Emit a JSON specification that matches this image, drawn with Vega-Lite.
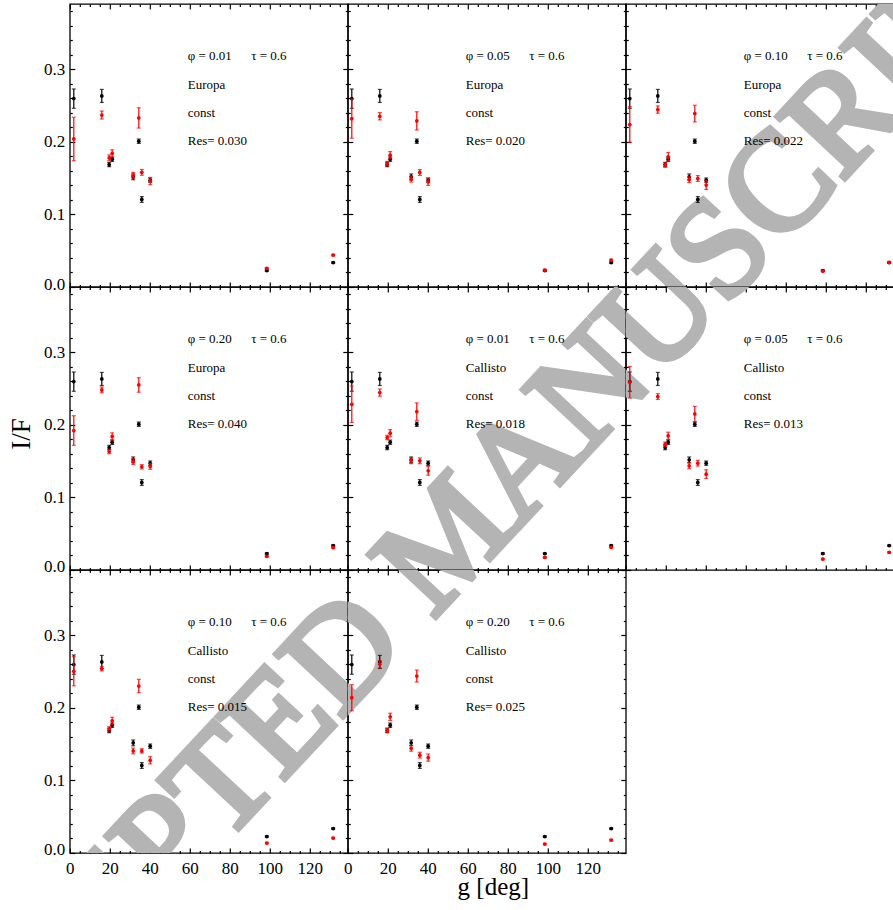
{
"$schema":"https://vega.github.io/schema/vega-lite/v6.json",
"background":"white",
"padding":{"left":6.8,"top":2,"right":0,"bottom":0},
"datasets":{
"wm":[{"text":"ACCEPTED MANUSCRIPT"}],
"obs":[{"g":2.0,"IF":0.2596,"err":0.0133},{"g":16.0,"IF":0.2633,"err":0.009},{"g":19.7,"IF":0.1688,"err":0.003},{"g":21.2,"IF":0.1761,"err":0.003},{"g":31.7,"IF":0.1518,"err":0.004},{"g":34.5,"IF":0.2009,"err":0.003},{"g":36.0,"IF":0.1206,"err":0.004},{"g":40.2,"IF":0.1472,"err":0.003},{"g":98.5,"IF":0.0226,"err":0.001},{"g":131.7,"IF":0.0336,"err":0.001}],
"model":[
{"panel":1,"g":2.0,"IF":0.204,"err":0.030},{"panel":1,"g":16.0,"IF":0.237,"err":0.0055},{"panel":1,"g":19.7,"IF":0.178,"err":0.004},{"panel":1,"g":21.2,"IF":0.184,"err":0.005},{"panel":1,"g":31.7,"IF":0.154,"err":0.004},{"panel":1,"g":34.5,"IF":0.233,"err":0.014},{"panel":1,"g":36.0,"IF":0.158,"err":0.004},{"panel":1,"g":40.2,"IF":0.146,"err":0.005},{"panel":1,"g":98.5,"IF":0.0257,"err":0.001},{"panel":1,"g":131.7,"IF":0.044,"err":0.001},
{"panel":2,"g":2.0,"IF":0.232,"err":0.027},{"panel":2,"g":16.0,"IF":0.2353,"err":0.005},{"panel":2,"g":19.7,"IF":0.170,"err":0.003},{"panel":2,"g":21.2,"IF":0.1817,"err":0.005},{"panel":2,"g":31.7,"IF":0.1486,"err":0.004},{"panel":2,"g":34.5,"IF":0.2289,"err":0.0126},{"panel":2,"g":36.0,"IF":0.1578,"err":0.004},{"panel":2,"g":40.2,"IF":0.145,"err":0.005},{"panel":2,"g":98.5,"IF":0.0234,"err":0.001},{"panel":2,"g":131.7,"IF":0.0372,"err":0.001},
{"panel":3,"g":2.0,"IF":0.2239,"err":0.0245},{"panel":3,"g":16.0,"IF":0.2445,"err":0.005},{"panel":3,"g":19.7,"IF":0.168,"err":0.003},{"panel":3,"g":21.2,"IF":0.1794,"err":0.006},{"panel":3,"g":31.7,"IF":0.148,"err":0.004},{"panel":3,"g":34.5,"IF":0.239,"err":0.0115},{"panel":3,"g":36.0,"IF":0.1495,"err":0.004},{"panel":3,"g":40.2,"IF":0.1404,"err":0.006},{"panel":3,"g":98.5,"IF":0.022,"err":0.001},{"panel":3,"g":131.7,"IF":0.034,"err":0.001},
{"panel":4,"g":2.0,"IF":0.1922,"err":0.0204},{"panel":4,"g":16.0,"IF":0.2482,"err":0.004},{"panel":4,"g":19.7,"IF":0.1633,"err":0.003},{"panel":4,"g":21.2,"IF":0.184,"err":0.005},{"panel":4,"g":31.7,"IF":0.1495,"err":0.004},{"panel":4,"g":34.5,"IF":0.255,"err":0.010},{"panel":4,"g":36.0,"IF":0.1422,"err":0.003},{"panel":4,"g":40.2,"IF":0.1427,"err":0.004},{"panel":4,"g":98.5,"IF":0.0188,"err":0.001},{"panel":4,"g":131.7,"IF":0.0307,"err":0.001},
{"panel":5,"g":2.0,"IF":0.2284,"err":0.025},{"panel":5,"g":16.0,"IF":0.2445,"err":0.005},{"panel":5,"g":19.7,"IF":0.1826,"err":0.003},{"panel":5,"g":21.2,"IF":0.1885,"err":0.005},{"panel":5,"g":31.7,"IF":0.1505,"err":0.004},{"panel":5,"g":34.5,"IF":0.2183,"err":0.012},{"panel":5,"g":36.0,"IF":0.1505,"err":0.004},{"panel":5,"g":40.2,"IF":0.1367,"err":0.006},{"panel":5,"g":98.5,"IF":0.0174,"err":0.001},{"panel":5,"g":131.7,"IF":0.0312,"err":0.001},
{"panel":6,"g":2.0,"IF":0.2587,"err":0.0218},{"panel":6,"g":16.0,"IF":0.239,"err":0.004},{"panel":6,"g":19.7,"IF":0.1734,"err":0.003},{"panel":6,"g":21.2,"IF":0.1849,"err":0.005},{"panel":6,"g":31.7,"IF":0.1436,"err":0.004},{"panel":6,"g":34.5,"IF":0.2151,"err":0.0105},{"panel":6,"g":36.0,"IF":0.1472,"err":0.004},{"panel":6,"g":40.2,"IF":0.1321,"err":0.006},{"panel":6,"g":98.5,"IF":0.0151,"err":0.001},{"panel":6,"g":131.7,"IF":0.0243,"err":0.001},
{"panel":7,"g":2.0,"IF":0.2504,"err":0.020},{"panel":7,"g":16.0,"IF":0.254,"err":0.003},{"panel":7,"g":19.7,"IF":0.1711,"err":0.003},{"panel":7,"g":21.2,"IF":0.1821,"err":0.005},{"panel":7,"g":31.7,"IF":0.1407,"err":0.004},{"panel":7,"g":34.5,"IF":0.2301,"err":0.0092},{"panel":7,"g":36.0,"IF":0.1407,"err":0.003},{"panel":7,"g":40.2,"IF":0.1278,"err":0.005},{"panel":7,"g":98.5,"IF":0.0137,"err":0.001},{"panel":7,"g":131.7,"IF":0.0206,"err":0.001},
{"panel":8,"g":2.0,"IF":0.214,"err":0.018},{"panel":8,"g":16.0,"IF":0.26,"err":0.005},{"panel":8,"g":19.7,"IF":0.169,"err":0.003},{"panel":8,"g":21.2,"IF":0.1876,"err":0.005},{"panel":8,"g":31.7,"IF":0.1443,"err":0.004},{"panel":8,"g":34.5,"IF":0.2439,"err":0.0083},{"panel":8,"g":36.0,"IF":0.1348,"err":0.004},{"panel":8,"g":40.2,"IF":0.1315,"err":0.005},{"panel":8,"g":98.5,"IF":0.0123,"err":0.001},{"panel":8,"g":131.7,"IF":0.0178,"err":0.001}
],
"notes":[
{"panel":1,"label":"φ = 0.01\u2003\u2002τ = 0.6\nEuropa\nconst\nRes= 0.030"},
{"panel":2,"label":"φ = 0.05\u2003\u2002τ = 0.6\nEuropa\nconst\nRes= 0.020"},
{"panel":3,"label":"φ = 0.10\u2003\u2002τ = 0.6\nEuropa\nconst\nRes= 0.022"},
{"panel":4,"label":"φ = 0.20\u2003\u2002τ = 0.6\nEuropa\nconst\nRes= 0.040"},
{"panel":5,"label":"φ = 0.01\u2003\u2002τ = 0.6\nCallisto\nconst\nRes= 0.018"},
{"panel":6,"label":"φ = 0.05\u2003\u2002τ = 0.6\nCallisto\nconst\nRes= 0.013"},
{"panel":7,"label":"φ = 0.10\u2003\u2002τ = 0.6\nCallisto\nconst\nRes= 0.015"},
{"panel":8,"label":"φ = 0.20\u2003\u2002τ = 0.6\nCallisto\nconst\nRes= 0.025"}
]
},
"columns":3,
"spacing":0,
"bounds":"flush",
"concat":[
{"width":278,"height":283,"resolve":{"axis":{"x":"independent","y":"independent"}},"layer":[
{"data":{"name":"wm"},"mark":{"type":"text","fontSize":140,"angle":-47,"color":"#b4b4b4","stroke":"#b4b4b4","strokeWidth":6,"align":"center","baseline":"middle","clip":true},"encoding":{"x":{"datum":190.85,"type":"quantitative","scale":{"domain":[0,139],"nice":false,"zero":false},"axis":{"orient":"bottom","values":[5,10,15,25,30,35,45,50,55,65,70,75,85,90,95,105,110,115,125,130,135],"tickSize":-2.5,"labels":false,"title":null}},"y":{"datum":-0.34687,"type":"quantitative","scale":{"domain":[0,0.39],"nice":false,"zero":false},"axis":{"orient":"left","values":[0.02,0.04,0.06,0.08,0.12,0.14,0.16,0.18,0.22,0.24,0.26,0.28,0.32,0.34,0.36,0.38],"tickSize":-2.5,"labels":false,"title":null}},"text":{"field":"text"}}},
{"data":{"name":"obs"},"mark":{"type":"errorbar","ticks":true,"size":4,"thickness":1.2,"color":"black"},"encoding":{"x":{"field":"g","type":"quantitative","axis":null},"y":{"field":"IF","type":"quantitative","axis":null},"yError":{"field":"err"}}},
{"data":{"name":"obs"},"mark":{"type":"circle","size":14,"color":"black","opacity":1},"encoding":{"x":{"field":"g","type":"quantitative","axis":{"orient":"bottom","values":[0,20,40,60,80,100,120],"tickSize":-5,"labels":false,"title":null}},"y":{"field":"IF","type":"quantitative","axis":{"orient":"left","values":[0,0.1,0.2,0.3],"format":".1f","tickSize":-5,"labelPadding":10,"labelFlush":true,"labelFlushOffset":6,"title":null}}}},
{"data":{"name":"model"},"transform":[{"filter":"datum.panel == 1"}],"mark":{"type":"errorbar","ticks":true,"size":4,"thickness":1.2,"color":"#ff0000"},"encoding":{"x":{"field":"g","type":"quantitative","axis":null},"y":{"field":"IF","type":"quantitative","axis":null},"yError":{"field":"err"}}},
{"data":{"name":"model"},"transform":[{"filter":"datum.panel == 1"}],"mark":{"type":"circle","size":14,"color":"#ff0000","opacity":1},"encoding":{"x":{"field":"g","type":"quantitative","axis":{"orient":"top","values":[0,20,40,60,80,100,120],"tickSize":-5,"labels":false,"title":null}},"y":{"field":"IF","type":"quantitative","axis":{"orient":"right","values":[0,0.1,0.2,0.3],"tickSize":-5,"labels":false,"title":null}}}},
{"data":{"name":"notes"},"transform":[{"filter":"datum.panel == 1"}],"mark":{"type":"text","align":"left","baseline":"alphabetic","fontSize":13,"lineBreak":"\n","lineHeight":28.3,"color":"black"},"encoding":{"x":{"datum":59,"type":"quantitative","axis":{"orient":"top","values":[5,10,15,25,30,35,45,50,55,65,70,75,85,90,95,105,110,115,125,130,135],"tickSize":-2.5,"labels":false,"title":null}},"y":{"datum":0.3123,"type":"quantitative","axis":{"orient":"right","values":[0.02,0.04,0.06,0.08,0.12,0.14,0.16,0.18,0.22,0.24,0.26,0.28,0.32,0.34,0.36,0.38],"tickSize":-2.5,"labels":false,"title":null}},"text":{"field":"label"}}}
]},
{"width":278,"height":283,"resolve":{"axis":{"x":"independent","y":"independent"}},"layer":[
{"data":{"name":"wm"},"mark":{"type":"text","fontSize":140,"angle":-47,"color":"#b4b4b4","stroke":"#b4b4b4","strokeWidth":6,"align":"center","baseline":"middle","clip":true},"encoding":{"x":{"datum":51.85,"type":"quantitative","scale":{"domain":[0,139],"nice":false,"zero":false},"axis":{"orient":"bottom","values":[5,10,15,25,30,35,45,50,55,65,70,75,85,90,95,105,110,115,125,130,135],"tickSize":-2.5,"labels":false,"title":null}},"y":{"datum":-0.34687,"type":"quantitative","scale":{"domain":[0,0.39],"nice":false,"zero":false},"axis":{"orient":"left","values":[0.02,0.04,0.06,0.08,0.12,0.14,0.16,0.18,0.22,0.24,0.26,0.28,0.32,0.34,0.36,0.38],"tickSize":-2.5,"labels":false,"title":null}},"text":{"field":"text"}}},
{"data":{"name":"obs"},"mark":{"type":"errorbar","ticks":true,"size":4,"thickness":1.2,"color":"black"},"encoding":{"x":{"field":"g","type":"quantitative","axis":null},"y":{"field":"IF","type":"quantitative","axis":null},"yError":{"field":"err"}}},
{"data":{"name":"obs"},"mark":{"type":"circle","size":14,"color":"black","opacity":1},"encoding":{"x":{"field":"g","type":"quantitative","axis":{"orient":"bottom","values":[0,20,40,60,80,100,120],"tickSize":-5,"labels":false,"title":null}},"y":{"field":"IF","type":"quantitative","axis":{"orient":"left","values":[0,0.1,0.2,0.3],"tickSize":-5,"labels":false,"title":null}}}},
{"data":{"name":"model"},"transform":[{"filter":"datum.panel == 2"}],"mark":{"type":"errorbar","ticks":true,"size":4,"thickness":1.2,"color":"#ff0000"},"encoding":{"x":{"field":"g","type":"quantitative","axis":null},"y":{"field":"IF","type":"quantitative","axis":null},"yError":{"field":"err"}}},
{"data":{"name":"model"},"transform":[{"filter":"datum.panel == 2"}],"mark":{"type":"circle","size":14,"color":"#ff0000","opacity":1},"encoding":{"x":{"field":"g","type":"quantitative","axis":{"orient":"top","values":[0,20,40,60,80,100,120],"tickSize":-5,"labels":false,"title":null}},"y":{"field":"IF","type":"quantitative","axis":{"orient":"right","values":[0,0.1,0.2,0.3],"tickSize":-5,"labels":false,"title":null}}}},
{"data":{"name":"notes"},"transform":[{"filter":"datum.panel == 2"}],"mark":{"type":"text","align":"left","baseline":"alphabetic","fontSize":13,"lineBreak":"\n","lineHeight":28.3,"color":"black"},"encoding":{"x":{"datum":59,"type":"quantitative","axis":{"orient":"top","values":[5,10,15,25,30,35,45,50,55,65,70,75,85,90,95,105,110,115,125,130,135],"tickSize":-2.5,"labels":false,"title":null}},"y":{"datum":0.3123,"type":"quantitative","axis":{"orient":"right","values":[0.02,0.04,0.06,0.08,0.12,0.14,0.16,0.18,0.22,0.24,0.26,0.28,0.32,0.34,0.36,0.38],"tickSize":-2.5,"labels":false,"title":null}},"text":{"field":"label"}}}
]},
{"width":278,"height":283,"resolve":{"axis":{"x":"independent","y":"independent"}},"layer":[
{"data":{"name":"wm"},"mark":{"type":"text","fontSize":140,"angle":-47,"color":"#b4b4b4","stroke":"#b4b4b4","strokeWidth":6,"align":"center","baseline":"middle","clip":true},"encoding":{"x":{"datum":-87.15,"type":"quantitative","scale":{"domain":[0,139],"nice":false,"zero":false},"axis":{"orient":"bottom","values":[5,10,15,25,30,35,45,50,55,65,70,75,85,90,95,105,110,115,125,130,135],"tickSize":-2.5,"labels":false,"title":null}},"y":{"datum":-0.34687,"type":"quantitative","scale":{"domain":[0,0.39],"nice":false,"zero":false},"axis":{"orient":"left","values":[0.02,0.04,0.06,0.08,0.12,0.14,0.16,0.18,0.22,0.24,0.26,0.28,0.32,0.34,0.36,0.38],"tickSize":-2.5,"labels":false,"title":null}},"text":{"field":"text"}}},
{"data":{"name":"obs"},"mark":{"type":"errorbar","ticks":true,"size":4,"thickness":1.2,"color":"black"},"encoding":{"x":{"field":"g","type":"quantitative","axis":null},"y":{"field":"IF","type":"quantitative","axis":null},"yError":{"field":"err"}}},
{"data":{"name":"obs"},"mark":{"type":"circle","size":14,"color":"black","opacity":1},"encoding":{"x":{"field":"g","type":"quantitative","axis":{"orient":"bottom","values":[0,20,40,60,80,100,120],"tickSize":-5,"labels":false,"title":null}},"y":{"field":"IF","type":"quantitative","axis":{"orient":"left","values":[0,0.1,0.2,0.3],"tickSize":-5,"labels":false,"title":null}}}},
{"data":{"name":"model"},"transform":[{"filter":"datum.panel == 3"}],"mark":{"type":"errorbar","ticks":true,"size":4,"thickness":1.2,"color":"#ff0000"},"encoding":{"x":{"field":"g","type":"quantitative","axis":null},"y":{"field":"IF","type":"quantitative","axis":null},"yError":{"field":"err"}}},
{"data":{"name":"model"},"transform":[{"filter":"datum.panel == 3"}],"mark":{"type":"circle","size":14,"color":"#ff0000","opacity":1},"encoding":{"x":{"field":"g","type":"quantitative","axis":{"orient":"top","values":[0,20,40,60,80,100,120],"tickSize":-5,"labels":false,"title":null}},"y":{"field":"IF","type":"quantitative","axis":{"orient":"right","values":[0,0.1,0.2,0.3],"tickSize":-5,"labels":false,"title":null}}}},
{"data":{"name":"notes"},"transform":[{"filter":"datum.panel == 3"}],"mark":{"type":"text","align":"left","baseline":"alphabetic","fontSize":13,"lineBreak":"\n","lineHeight":28.3,"color":"black"},"encoding":{"x":{"datum":59,"type":"quantitative","axis":{"orient":"top","values":[5,10,15,25,30,35,45,50,55,65,70,75,85,90,95,105,110,115,125,130,135],"tickSize":-2.5,"labels":false,"title":null}},"y":{"datum":0.3123,"type":"quantitative","axis":{"orient":"right","values":[0.02,0.04,0.06,0.08,0.12,0.14,0.16,0.18,0.22,0.24,0.26,0.28,0.32,0.34,0.36,0.38],"tickSize":-2.5,"labels":false,"title":null}},"text":{"field":"label"}}}
]},
{"width":278,"height":283,"resolve":{"axis":{"x":"independent","y":"independent"}},"layer":[
{"data":{"name":"wm"},"mark":{"type":"text","fontSize":140,"angle":-47,"color":"#b4b4b4","stroke":"#b4b4b4","strokeWidth":6,"align":"center","baseline":"middle","clip":true},"encoding":{"x":{"datum":190.85,"type":"quantitative","scale":{"domain":[0,139],"nice":false,"zero":false},"axis":{"orient":"bottom","values":[5,10,15,25,30,35,45,50,55,65,70,75,85,90,95,105,110,115,125,130,135],"tickSize":-2.5,"labels":false,"title":null}},"y":{"datum":0.04313,"type":"quantitative","scale":{"domain":[0,0.39],"nice":false,"zero":false},"axis":{"orient":"left","values":[0.02,0.04,0.06,0.08,0.12,0.14,0.16,0.18,0.22,0.24,0.26,0.28,0.32,0.34,0.36,0.38],"tickSize":-2.5,"labels":false,"title":null}},"text":{"field":"text"}}},
{"data":{"name":"obs"},"mark":{"type":"errorbar","ticks":true,"size":4,"thickness":1.2,"color":"black"},"encoding":{"x":{"field":"g","type":"quantitative","axis":null},"y":{"field":"IF","type":"quantitative","axis":null},"yError":{"field":"err"}}},
{"data":{"name":"obs"},"mark":{"type":"circle","size":14,"color":"black","opacity":1},"encoding":{"x":{"field":"g","type":"quantitative","axis":{"orient":"bottom","values":[0,20,40,60,80,100,120],"tickSize":-5,"labels":false,"title":null}},"y":{"field":"IF","type":"quantitative","axis":{"orient":"left","values":[0,0.1,0.2,0.3],"format":".1f","tickSize":-5,"labelPadding":10,"labelFlush":true,"labelFlushOffset":6,"title":"I/F","titleFontSize":27,"titleX":-48,"titleY":146.5,"titleBaseline":"middle","titleAlign":"center","titleAngle":-90}}}},
{"data":{"name":"model"},"transform":[{"filter":"datum.panel == 4"}],"mark":{"type":"errorbar","ticks":true,"size":4,"thickness":1.2,"color":"#ff0000"},"encoding":{"x":{"field":"g","type":"quantitative","axis":null},"y":{"field":"IF","type":"quantitative","axis":null},"yError":{"field":"err"}}},
{"data":{"name":"model"},"transform":[{"filter":"datum.panel == 4"}],"mark":{"type":"circle","size":14,"color":"#ff0000","opacity":1},"encoding":{"x":{"field":"g","type":"quantitative","axis":{"orient":"top","values":[0,20,40,60,80,100,120],"tickSize":-5,"labels":false,"title":null}},"y":{"field":"IF","type":"quantitative","axis":{"orient":"right","values":[0,0.1,0.2,0.3],"tickSize":-5,"labels":false,"title":null}}}},
{"data":{"name":"notes"},"transform":[{"filter":"datum.panel == 4"}],"mark":{"type":"text","align":"left","baseline":"alphabetic","fontSize":13,"lineBreak":"\n","lineHeight":28.3,"color":"black"},"encoding":{"x":{"datum":59,"type":"quantitative","axis":{"orient":"top","values":[5,10,15,25,30,35,45,50,55,65,70,75,85,90,95,105,110,115,125,130,135],"tickSize":-2.5,"labels":false,"title":null}},"y":{"datum":0.3123,"type":"quantitative","axis":{"orient":"right","values":[0.02,0.04,0.06,0.08,0.12,0.14,0.16,0.18,0.22,0.24,0.26,0.28,0.32,0.34,0.36,0.38],"tickSize":-2.5,"labels":false,"title":null}},"text":{"field":"label"}}}
]},
{"width":278,"height":283,"resolve":{"axis":{"x":"independent","y":"independent"}},"layer":[
{"data":{"name":"wm"},"mark":{"type":"text","fontSize":140,"angle":-47,"color":"#b4b4b4","stroke":"#b4b4b4","strokeWidth":6,"align":"center","baseline":"middle","clip":true},"encoding":{"x":{"datum":51.85,"type":"quantitative","scale":{"domain":[0,139],"nice":false,"zero":false},"axis":{"orient":"bottom","values":[5,10,15,25,30,35,45,50,55,65,70,75,85,90,95,105,110,115,125,130,135],"tickSize":-2.5,"labels":false,"title":null}},"y":{"datum":0.04313,"type":"quantitative","scale":{"domain":[0,0.39],"nice":false,"zero":false},"axis":{"orient":"left","values":[0.02,0.04,0.06,0.08,0.12,0.14,0.16,0.18,0.22,0.24,0.26,0.28,0.32,0.34,0.36,0.38],"tickSize":-2.5,"labels":false,"title":null}},"text":{"field":"text"}}},
{"data":{"name":"obs"},"mark":{"type":"errorbar","ticks":true,"size":4,"thickness":1.2,"color":"black"},"encoding":{"x":{"field":"g","type":"quantitative","axis":null},"y":{"field":"IF","type":"quantitative","axis":null},"yError":{"field":"err"}}},
{"data":{"name":"obs"},"mark":{"type":"circle","size":14,"color":"black","opacity":1},"encoding":{"x":{"field":"g","type":"quantitative","axis":{"orient":"bottom","values":[0,20,40,60,80,100,120],"tickSize":-5,"labels":false,"title":null}},"y":{"field":"IF","type":"quantitative","axis":{"orient":"left","values":[0,0.1,0.2,0.3],"tickSize":-5,"labels":false,"title":null}}}},
{"data":{"name":"model"},"transform":[{"filter":"datum.panel == 5"}],"mark":{"type":"errorbar","ticks":true,"size":4,"thickness":1.2,"color":"#ff0000"},"encoding":{"x":{"field":"g","type":"quantitative","axis":null},"y":{"field":"IF","type":"quantitative","axis":null},"yError":{"field":"err"}}},
{"data":{"name":"model"},"transform":[{"filter":"datum.panel == 5"}],"mark":{"type":"circle","size":14,"color":"#ff0000","opacity":1},"encoding":{"x":{"field":"g","type":"quantitative","axis":{"orient":"top","values":[0,20,40,60,80,100,120],"tickSize":-5,"labels":false,"title":null}},"y":{"field":"IF","type":"quantitative","axis":{"orient":"right","values":[0,0.1,0.2,0.3],"tickSize":-5,"labels":false,"title":null}}}},
{"data":{"name":"notes"},"transform":[{"filter":"datum.panel == 5"}],"mark":{"type":"text","align":"left","baseline":"alphabetic","fontSize":13,"lineBreak":"\n","lineHeight":28.3,"color":"black"},"encoding":{"x":{"datum":59,"type":"quantitative","axis":{"orient":"top","values":[5,10,15,25,30,35,45,50,55,65,70,75,85,90,95,105,110,115,125,130,135],"tickSize":-2.5,"labels":false,"title":null}},"y":{"datum":0.3123,"type":"quantitative","axis":{"orient":"right","values":[0.02,0.04,0.06,0.08,0.12,0.14,0.16,0.18,0.22,0.24,0.26,0.28,0.32,0.34,0.36,0.38],"tickSize":-2.5,"labels":false,"title":null}},"text":{"field":"label"}}}
]},
{"width":278,"height":283,"resolve":{"axis":{"x":"independent","y":"independent"}},"layer":[
{"data":{"name":"wm"},"mark":{"type":"text","fontSize":140,"angle":-47,"color":"#b4b4b4","stroke":"#b4b4b4","strokeWidth":6,"align":"center","baseline":"middle","clip":true},"encoding":{"x":{"datum":-87.15,"type":"quantitative","scale":{"domain":[0,139],"nice":false,"zero":false},"axis":{"orient":"bottom","values":[5,10,15,25,30,35,45,50,55,65,70,75,85,90,95,105,110,115,125,130,135],"tickSize":-2.5,"labels":false,"title":null}},"y":{"datum":0.04313,"type":"quantitative","scale":{"domain":[0,0.39],"nice":false,"zero":false},"axis":{"orient":"left","values":[0.02,0.04,0.06,0.08,0.12,0.14,0.16,0.18,0.22,0.24,0.26,0.28,0.32,0.34,0.36,0.38],"tickSize":-2.5,"labels":false,"title":null}},"text":{"field":"text"}}},
{"data":{"name":"obs"},"mark":{"type":"errorbar","ticks":true,"size":4,"thickness":1.2,"color":"black"},"encoding":{"x":{"field":"g","type":"quantitative","axis":null},"y":{"field":"IF","type":"quantitative","axis":null},"yError":{"field":"err"}}},
{"data":{"name":"obs"},"mark":{"type":"circle","size":14,"color":"black","opacity":1},"encoding":{"x":{"field":"g","type":"quantitative","axis":{"orient":"bottom","values":[0,20,40,60,80,100,120],"tickSize":-5,"labels":false,"title":null}},"y":{"field":"IF","type":"quantitative","axis":{"orient":"left","values":[0,0.1,0.2,0.3],"tickSize":-5,"labels":false,"title":null}}}},
{"data":{"name":"model"},"transform":[{"filter":"datum.panel == 6"}],"mark":{"type":"errorbar","ticks":true,"size":4,"thickness":1.2,"color":"#ff0000"},"encoding":{"x":{"field":"g","type":"quantitative","axis":null},"y":{"field":"IF","type":"quantitative","axis":null},"yError":{"field":"err"}}},
{"data":{"name":"model"},"transform":[{"filter":"datum.panel == 6"}],"mark":{"type":"circle","size":14,"color":"#ff0000","opacity":1},"encoding":{"x":{"field":"g","type":"quantitative","axis":{"orient":"top","values":[0,20,40,60,80,100,120],"tickSize":-5,"labels":false,"title":null}},"y":{"field":"IF","type":"quantitative","axis":{"orient":"right","values":[0,0.1,0.2,0.3],"tickSize":-5,"labels":false,"title":null}}}},
{"data":{"name":"notes"},"transform":[{"filter":"datum.panel == 6"}],"mark":{"type":"text","align":"left","baseline":"alphabetic","fontSize":13,"lineBreak":"\n","lineHeight":28.3,"color":"black"},"encoding":{"x":{"datum":59,"type":"quantitative","axis":{"orient":"top","values":[5,10,15,25,30,35,45,50,55,65,70,75,85,90,95,105,110,115,125,130,135],"tickSize":-2.5,"labels":false,"title":null}},"y":{"datum":0.3123,"type":"quantitative","axis":{"orient":"right","values":[0.02,0.04,0.06,0.08,0.12,0.14,0.16,0.18,0.22,0.24,0.26,0.28,0.32,0.34,0.36,0.38],"tickSize":-2.5,"labels":false,"title":null}},"text":{"field":"label"}}}
]},
{"width":278,"height":283,"resolve":{"axis":{"x":"independent","y":"independent"}},"layer":[
{"data":{"name":"wm"},"mark":{"type":"text","fontSize":140,"angle":-47,"color":"#b4b4b4","stroke":"#b4b4b4","strokeWidth":6,"align":"center","baseline":"middle","clip":true},"encoding":{"x":{"datum":190.85,"type":"quantitative","scale":{"domain":[0,139],"nice":false,"zero":false},"axis":{"orient":"bottom","values":[5,10,15,25,30,35,45,50,55,65,70,75,85,90,95,105,110,115,125,130,135],"tickSize":-2.5,"labels":false,"title":null}},"y":{"datum":0.43314,"type":"quantitative","scale":{"domain":[0,0.39],"nice":false,"zero":false},"axis":{"orient":"left","values":[0.02,0.04,0.06,0.08,0.12,0.14,0.16,0.18,0.22,0.24,0.26,0.28,0.32,0.34,0.36,0.38],"tickSize":-2.5,"labels":false,"title":null}},"text":{"field":"text"}}},
{"data":{"name":"obs"},"mark":{"type":"errorbar","ticks":true,"size":4,"thickness":1.2,"color":"black"},"encoding":{"x":{"field":"g","type":"quantitative","axis":null},"y":{"field":"IF","type":"quantitative","axis":null},"yError":{"field":"err"}}},
{"data":{"name":"obs"},"mark":{"type":"circle","size":14,"color":"black","opacity":1},"encoding":{"x":{"field":"g","type":"quantitative","axis":{"orient":"bottom","values":[0,20,40,60,80,100,120],"tickSize":-5,"labelPadding":13,"labelFlush":false,"title":null}},"y":{"field":"IF","type":"quantitative","axis":{"orient":"left","values":[0,0.1,0.2,0.3],"format":".1f","tickSize":-5,"labelPadding":10,"labelFlush":true,"labelFlushOffset":6,"title":null}}}},
{"data":{"name":"model"},"transform":[{"filter":"datum.panel == 7"}],"mark":{"type":"errorbar","ticks":true,"size":4,"thickness":1.2,"color":"#ff0000"},"encoding":{"x":{"field":"g","type":"quantitative","axis":null},"y":{"field":"IF","type":"quantitative","axis":null},"yError":{"field":"err"}}},
{"data":{"name":"model"},"transform":[{"filter":"datum.panel == 7"}],"mark":{"type":"circle","size":14,"color":"#ff0000","opacity":1},"encoding":{"x":{"field":"g","type":"quantitative","axis":{"orient":"top","values":[0,20,40,60,80,100,120],"tickSize":-5,"labels":false,"title":null}},"y":{"field":"IF","type":"quantitative","axis":{"orient":"right","values":[0,0.1,0.2,0.3],"tickSize":-5,"labels":false,"title":null}}}},
{"data":{"name":"notes"},"transform":[{"filter":"datum.panel == 7"}],"mark":{"type":"text","align":"left","baseline":"alphabetic","fontSize":13,"lineBreak":"\n","lineHeight":28.3,"color":"black"},"encoding":{"x":{"datum":59,"type":"quantitative","axis":{"orient":"top","values":[5,10,15,25,30,35,45,50,55,65,70,75,85,90,95,105,110,115,125,130,135],"tickSize":-2.5,"labels":false,"title":null}},"y":{"datum":0.3123,"type":"quantitative","axis":{"orient":"right","values":[0.02,0.04,0.06,0.08,0.12,0.14,0.16,0.18,0.22,0.24,0.26,0.28,0.32,0.34,0.36,0.38],"tickSize":-2.5,"labels":false,"title":null}},"text":{"field":"label"}}}
]},
{"width":278,"height":283,"resolve":{"axis":{"x":"independent","y":"independent"}},"layer":[
{"data":{"name":"wm"},"mark":{"type":"text","fontSize":140,"angle":-47,"color":"#b4b4b4","stroke":"#b4b4b4","strokeWidth":6,"align":"center","baseline":"middle","clip":true},"encoding":{"x":{"datum":51.85,"type":"quantitative","scale":{"domain":[0,139],"nice":false,"zero":false},"axis":{"orient":"bottom","values":[5,10,15,25,30,35,45,50,55,65,70,75,85,90,95,105,110,115,125,130,135],"tickSize":-2.5,"labels":false,"title":null}},"y":{"datum":0.43314,"type":"quantitative","scale":{"domain":[0,0.39],"nice":false,"zero":false},"axis":{"orient":"left","values":[0.02,0.04,0.06,0.08,0.12,0.14,0.16,0.18,0.22,0.24,0.26,0.28,0.32,0.34,0.36,0.38],"tickSize":-2.5,"labels":false,"title":null}},"text":{"field":"text"}}},
{"data":{"name":"obs"},"mark":{"type":"errorbar","ticks":true,"size":4,"thickness":1.2,"color":"black"},"encoding":{"x":{"field":"g","type":"quantitative","axis":null},"y":{"field":"IF","type":"quantitative","axis":null},"yError":{"field":"err"}}},
{"data":{"name":"obs"},"mark":{"type":"circle","size":14,"color":"black","opacity":1},"encoding":{"x":{"field":"g","type":"quantitative","axis":{"orient":"bottom","values":[0,20,40,60,80,100,120],"tickSize":-5,"labelPadding":13,"labelFlush":false,"title":"g [deg]","titleFontSize":25,"titleX":145,"titleY":42,"titleBaseline":"alphabetic","titleAlign":"center"}},"y":{"field":"IF","type":"quantitative","axis":{"orient":"left","values":[0,0.1,0.2,0.3],"tickSize":-5,"labels":false,"title":null}}}},
{"data":{"name":"model"},"transform":[{"filter":"datum.panel == 8"}],"mark":{"type":"errorbar","ticks":true,"size":4,"thickness":1.2,"color":"#ff0000"},"encoding":{"x":{"field":"g","type":"quantitative","axis":null},"y":{"field":"IF","type":"quantitative","axis":null},"yError":{"field":"err"}}},
{"data":{"name":"model"},"transform":[{"filter":"datum.panel == 8"}],"mark":{"type":"circle","size":14,"color":"#ff0000","opacity":1},"encoding":{"x":{"field":"g","type":"quantitative","axis":{"orient":"top","values":[0,20,40,60,80,100,120],"tickSize":-5,"labels":false,"title":null}},"y":{"field":"IF","type":"quantitative","axis":{"orient":"right","values":[0,0.1,0.2,0.3],"tickSize":-5,"labels":false,"title":null}}}},
{"data":{"name":"notes"},"transform":[{"filter":"datum.panel == 8"}],"mark":{"type":"text","align":"left","baseline":"alphabetic","fontSize":13,"lineBreak":"\n","lineHeight":28.3,"color":"black"},"encoding":{"x":{"datum":59,"type":"quantitative","axis":{"orient":"top","values":[5,10,15,25,30,35,45,50,55,65,70,75,85,90,95,105,110,115,125,130,135],"tickSize":-2.5,"labels":false,"title":null}},"y":{"datum":0.3123,"type":"quantitative","axis":{"orient":"right","values":[0.02,0.04,0.06,0.08,0.12,0.14,0.16,0.18,0.22,0.24,0.26,0.28,0.32,0.34,0.36,0.38],"tickSize":-2.5,"labels":false,"title":null}},"text":{"field":"label"}}}
]}
],
"config":{
"font":"Liberation Serif",
"view":{"stroke":"black","strokeWidth":1.3},
"axis":{"grid":false,"domain":false,"ticks":true,"tickColor":"black","tickWidth":1.2,"labelColor":"black","labelFont":"Liberation Serif","labelFontSize":17,"labelOverlap":false,"labelBound":false,"titleColor":"black","titleFont":"Liberation Serif","titleFontWeight":"normal"},
"text":{"font":"Liberation Serif"}
}
}
